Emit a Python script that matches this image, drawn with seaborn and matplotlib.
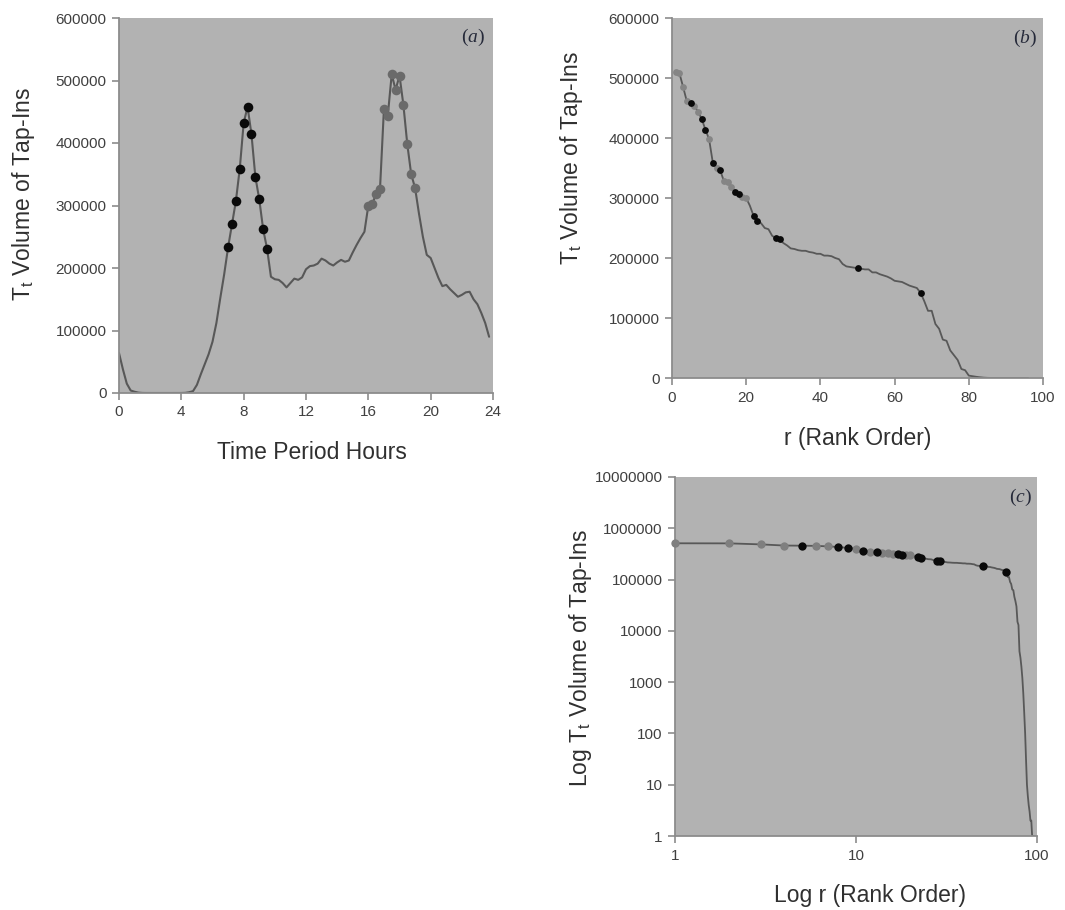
import numpy as np
import pandas as pd
import matplotlib
matplotlib.use("Agg")
import matplotlib.pyplot as plt
import seaborn as sns

# Quarter-hour tap-in volumes over one day (00:00 .. 23:45)
hours = np.arange(0, 24, 0.25)
tap_ins = [
    64000, 38000, 15000, 4000,            # 00:00
    2000, 600, 100, 10,                   # 01:00
    4, 2, 1, 1,                           # 02:00
    1, 2, 3, 6,                           # 03:00
    30, 250, 1200, 3000,                  # 04:00
    13000, 30000, 46000, 62000,           # 05:00
    82000, 112000, 152000, 190000,        # 06:00
    233000, 270000, 307000, 359000,       # 07:00
    432000, 458000, 414000, 346000,       # 08:00
    310000, 262000, 231000, 186000,       # 09:00
    182000, 181000, 176000, 169000,       # 10:00
    176000, 183000, 181000, 185000,       # 11:00
    198000, 203000, 204000, 207000,       # 12:00
    215000, 212000, 207000, 204000,       # 13:00
    209000, 213000, 210000, 212000,       # 14:00
    225000, 237000, 248000, 258000,       # 15:00
    300000, 302000, 319000, 327000,       # 16:00
    454000, 444000, 510000, 485000,       # 17:00
    508000, 461000, 398000, 350000,       # 18:00
    328000, 287000, 250000, 221000,       # 19:00
    216000, 200000, 184000, 171000,       # 20:00
    173000, 166000, 160000, 154000,       # 21:00
    157000, 161000, 162000, 150000,       # 22:00
    142000, 128000, 112000, 90000,        # 23:00
]

# peak windows highlighted with markers (hours, inclusive)
am_peak = (7.0, 9.5)
pm_peak = (16.0, 19.0)
# further ranks marked on the rank-order curves
extra_ranks = [50, 67]

hour_ticks = [0, 4, 8, 12, 16, 20, 24]
volume_ticks = [0, 100000, 200000, 300000, 400000, 500000, 600000]
rank_ticks = [0, 20, 40, 60, 80, 100]
log_rank_ticks = [1, 10, 100]
log_volume_ticks = [1, 10, 100, 1000, 10000, 100000, 1000000, 10000000]

# ---------------------------------------------------------------- data frames
df = pd.DataFrame({"hour": hours, "volume": tap_ins})
df["period"] = "off"
df.loc[df.hour.between(*am_peak), "period"] = "am"
df.loc[df.hour.between(*pm_peak), "period"] = "pm"

ranked = df.sort_values("volume", ascending=False).reset_index(drop=True)
ranked["rank"] = np.arange(1, len(ranked) + 1)
ranked.loc[ranked["rank"].isin(extra_ranks), "period"] = "am"

# ---------------------------------------------------------------- styling
sns.set_style("ticks")
plt.rcParams["font.family"] = ["Liberation Sans", "DejaVu Sans"]
plt.rcParams["mathtext.default"] = "regular"
plt.rcParams["mathtext.fontset"] = "custom"
plt.rcParams["mathtext.it"] = "Liberation Serif:italic"

BG = "#b2b2b2"
LINE = "#585858"
SPINE = "#8c8c8c"
TICKLAB = "#404040"
LABEL = "#303030"
BLACK = "#0a0a0a"

fig = plt.figure(figsize=(10.65, 9.10), dpi=100)
W, H = 1065, 910


def add_axes(left, top, right, bottom):
    return fig.add_axes([left / W, 1 - bottom / H, (right - left) / W, (bottom - top) / H])


ax_a = add_axes(119, 18, 493, 393)
ax_b = add_axes(672, 18, 1043, 378)
ax_c = add_axes(675, 477, 1037, 836)


def style(ax):
    ax.set_facecolor(BG)
    for s in ("top", "right"):
        ax.spines[s].set_visible(False)
    for s in ("left", "bottom"):
        ax.spines[s].set_color(SPINE)
        ax.spines[s].set_linewidth(1.3)
    ax.tick_params(direction="out", length=5, width=1.2, color=SPINE,
                   labelsize=11, labelcolor=TICKLAB, pad=4)


def panel_tag(ax, letter, x, y):
    ax.text(x, y, "($\\mathit{%s}$)" % letter, transform=ax.transAxes,
            ha="right", va="center", fontsize=14, color="#262a3a",
            family=["Liberation Serif", "DejaVu Serif"])


# ---------------------------------------------------------------- (a) daily profile
style(ax_a)
sns.lineplot(data=df, x="hour", y="volume", ax=ax_a, color=LINE, lw=1.5,
             estimator=None, sort=False)
sns.scatterplot(data=df[df.period == "pm"], x="hour", y="volume", ax=ax_a,
                color="#6a6a6a", s=48, linewidth=0, zorder=3)
sns.scatterplot(data=df[df.period == "am"], x="hour", y="volume", ax=ax_a,
                color=BLACK, s=48, linewidth=0, zorder=4)
ax_a.set_xlim(0, 24)
ax_a.set_ylim(0, 600000)
ax_a.set_xticks(hour_ticks)
ax_a.set_yticks(volume_ticks)
ax_a.set_yticklabels([str(v) for v in volume_ticks])
ax_a.set_xlabel("Time Period Hours", fontsize=16.5, color=LABEL)
ax_a.set_ylabel("T$_t$ Volume of Tap-Ins", fontsize=16.5, color=LABEL)
ax_a.xaxis.set_label_coords(0.515, -0.128)
ax_a.yaxis.set_label_coords(-0.22, 0.53)
panel_tag(ax_a, "a", 0.979, 0.947)

# ---------------------------------------------------------------- (b) rank order
style(ax_b)
sns.lineplot(data=ranked, x="rank", y="volume", ax=ax_b, color=LINE, lw=1.3,
             estimator=None, sort=False)
sns.scatterplot(data=ranked[ranked.period == "pm"], x="rank", y="volume", ax=ax_b,
                color="#858585", s=24, linewidth=0, zorder=3, clip_on=False)
sns.scatterplot(data=ranked[ranked.period == "am"], x="rank", y="volume", ax=ax_b,
                color=BLACK, s=24, linewidth=0, zorder=4, clip_on=False)
ax_b.set_xlim(0, 100)
ax_b.set_ylim(0, 600000)
ax_b.set_xticks(rank_ticks)
ax_b.set_yticks(volume_ticks)
ax_b.set_yticklabels([str(v) for v in volume_ticks])
ax_b.set_xlabel("r (Rank Order)", fontsize=16.5, color=LABEL)
ax_b.set_ylabel("T$_t$ Volume of Tap-Ins", fontsize=16.5, color=LABEL)
ax_b.xaxis.set_label_coords(0.5, -0.135)
ax_b.yaxis.set_label_coords(-0.235, 0.61)
panel_tag(ax_b, "b", 0.984, 0.944)

# ---------------------------------------------------------------- (c) log-log rank order
style(ax_c)
sns.lineplot(data=ranked, x="rank", y="volume", ax=ax_c, color=LINE, lw=1.3,
             estimator=None, sort=False)
sns.scatterplot(data=ranked[ranked.period == "pm"], x="rank", y="volume", ax=ax_c,
                color="#7f7f7f", s=36, linewidth=0, zorder=3, clip_on=False)
sns.scatterplot(data=ranked[ranked.period == "am"], x="rank", y="volume", ax=ax_c,
                color=BLACK, s=36, linewidth=0, zorder=4, clip_on=False)
ax_c.set_xscale("log")
ax_c.set_yscale("log")
ax_c.set_xlim(1, 100)
ax_c.set_ylim(1, 10000000)
ax_c.set_xticks(log_rank_ticks)
ax_c.set_xticklabels([str(v) for v in log_rank_ticks])
ax_c.set_yticks(log_volume_ticks)
ax_c.set_yticklabels([str(v) for v in log_volume_ticks])
ax_c.minorticks_off()
ax_c.set_xlabel("Log r (Rank Order)", fontsize=16.5, color=LABEL)
ax_c.set_ylabel("Log T$_t$ Volume of Tap-Ins", fontsize=16.5, color=LABEL)
ax_c.xaxis.set_label_coords(0.54, -0.135)
ax_c.yaxis.set_label_coords(-0.224, 0.496)
panel_tag(ax_c, "c", 0.986, 0.944)

fig.savefig("out.png", dpi=100, facecolor="white")
